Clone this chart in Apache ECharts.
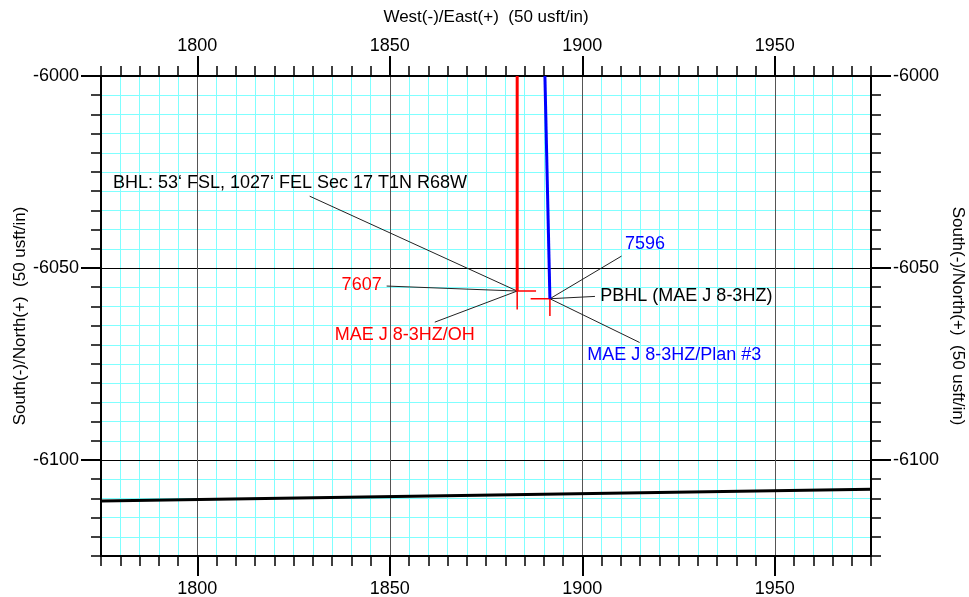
<!DOCTYPE html>
<html><head><meta charset="utf-8">
<script src="https://cdn.jsdelivr.net/npm/echarts@6/dist/echarts.min.js"></script>
<style>html,body{margin:0;padding:0;background:#fff}#c{width:969px;height:597px}</style>
</head><body><div id="c"></div>
<script>
const xRange = [1775, 1975];
const yRange = [-6125, -6000];
const xMajorTicks = [1800, 1850, 1900, 1950];
const yMajorTicks = [-6000, -6050, -6100];
const wellOH = [[1883.1, -6000], [1883.1, -6056.0]];
const wellPlan = [[1890.3, -6000], [1891.6, -6058.0]];
const ohMarkerH = [[1883.1, -6056.0], [1888.0, -6056.0]];
const ohMarkerV = [[1883.1, -6056.0], [1883.1, -6060.8]];
const pbhlMarkerH = [[1886.6, -6058.0], [1891.6, -6058.0]];
const pbhlMarkerV = [[1891.6, -6058.0], [1891.6, -6062.5]];
const leaseLine = [[1775, -6110.7], [1975, -6107.6]];
const leaders = [
  [[1829.2, -6031.3], [1883.1, -6056.0]],
  [[1849.2, -6054.7], [1883.1, -6056.0]],
  [[1861.7, -6064.1], [1883.1, -6056.0]],
  [[1910.2, -6046.9], [1891.6, -6058.0]],
  [[1903.3, -6057.4], [1891.6, -6058.0]],
  [[1914.9, -6069.4], [1891.6, -6058.0]]
];
const labelTexts = ['BHL: 53\u2018 FSL, 1027\u2018 FEL Sec 17 T1N R68W', '7607', 'MAE J 8-3HZ/OH', '7596', 'PBHL (MAE J 8-3HZ)', 'MAE J 8-3HZ/Plan #3'];
const labelAnchors = [[1778.1, -6027.9], [1847.9, -6054.5], [1835.7, -6067.4], [1911.1, -6043.8], [1904.7, -6057.3], [1901.3, -6072.7]];

const FONT = "'Liberation Sans', Arial, sans-serif";
const labelColors = ['#000', '#ff0000', '#ff0000', '#0000ff', '#000', '#0000ff'];
const labelSides = ['right', 'left', 'right', 'right', 'right', 'right'];
const plain = v => String(v);

function minorX(pos) {
  return {
    type: 'value', position: pos, min: xRange[0], max: xRange[1], interval: 5, z: 0,
    axisLine: { show: false },
    axisTick: { show: true, length: 10, lineStyle: { color: '#000', width: 1.5 } },
    axisLabel: { show: false },
    splitLine: { show: pos === 'bottom', lineStyle: { color: '#80ffff', width: 1 } }
  };
}
function majorX(pos, margin, extra) {
  return Object.assign({
    type: 'value', position: pos, min: xRange[0], max: xRange[1], interval: 5, z: 1,
    axisLine: { show: true, lineStyle: { color: '#000', width: 2 } },
    axisTick: { show: true, customValues: xMajorTicks, length: 20, lineStyle: { color: '#000', width: 2 } },
    axisLabel: { show: true, customValues: xMajorTicks, formatter: plain, fontSize: 18, fontFamily: FONT, color: '#000', margin: margin },
    splitLine: { show: pos === 'bottom', lineStyle: { color: '#555', width: 1 } }
  }, extra || {});
}
function minorY(pos) {
  return {
    type: 'value', position: pos, min: yRange[0], max: yRange[1], interval: 5, z: 0,
    axisLine: { show: false },
    axisTick: { show: true, length: 10, lineStyle: { color: '#000', width: 1.5 } },
    axisLabel: { show: false },
    splitLine: { show: pos === 'left', lineStyle: { color: '#80ffff', width: 1 } }
  };
}
function majorY(pos, extra) {
  return Object.assign({
    type: 'value', position: pos, min: yRange[0], max: yRange[1], interval: 5, z: 1,
    axisLine: { show: true, lineStyle: { color: '#000', width: 2 } },
    axisTick: { show: true, customValues: yMajorTicks, length: 20, lineStyle: { color: '#000', width: 2 } },
    axisLabel: { show: true, customValues: yMajorTicks, formatter: plain, fontSize: 18, fontFamily: FONT, color: '#000', margin: 22 },
    splitLine: { show: pos === 'left', lineStyle: { color: '#000', width: 1 } }
  }, extra || {});
}

const nameStyle = { fontSize: 17, fontFamily: FONT, color: '#000' };

const series = [];
function seg(data, color, width) {
  series.push({ type: 'line', data: data, xAxisIndex: 0, yAxisIndex: 0, symbol: 'none', silent: true,
    lineStyle: { color: color, width: width }, clip: true, animation: false });
}
seg(leaseLine, '#000', 3);
leaders.forEach(l => seg(l, '#222', 1));
seg(ohMarkerH, '#ff0000', 1.5);
seg(ohMarkerV, '#ff0000', 1.5);
seg(pbhlMarkerH, '#ff0000', 1.5);
seg(pbhlMarkerV, '#ff0000', 1.5);
seg(wellOH, '#ff0000', 3);
seg(wellPlan, '#0000ff', 3);

series.push({
  type: 'scatter', xAxisIndex: 0, yAxisIndex: 0, symbolSize: 0, silent: true, animation: false,
  itemStyle: { opacity: 1 },
  data: labelTexts.map((t, i) => ({
    value: labelAnchors[i], name: t,
    label: { show: true, formatter: t, position: labelSides[i], distance: 0, color: labelColors[i], opacity: 1, fontSize: 18, fontFamily: FONT }
  }))
});

const chart = echarts.init(document.getElementById('c'), null, { renderer: 'canvas' });
chart.setOption({
  animation: false,
  backgroundColor: '#fff',
  grid: { left: 101, right: 98, top: 76, bottom: 41, containLabel: false, outerBoundsMode: 'none' },
  xAxis: [
    minorX('bottom'), minorX('top'),
    majorX('bottom', 24),
    majorX('top', 21, { name: 'West(-)/East(+)  (50 usft/in)', nameLocation: 'middle', nameGap: 50, nameMoveOverlap: false, nameTextStyle: nameStyle })
  ],
  yAxis: [
    minorY('left'), minorY('right'),
    majorY('left', { name: 'South(-)/North(+)  (50 usft/in)', nameLocation: 'middle', nameGap: 72, nameMoveOverlap: false, nameTextStyle: nameStyle }),
    majorY('right', { name: 'South(-)/North(+)  (50 usft/in)', nameLocation: 'middle', nameGap: 78, nameMoveOverlap: false, nameRotate: -90, nameTextStyle: nameStyle })
  ],
  series: series
});
</script></body></html>
